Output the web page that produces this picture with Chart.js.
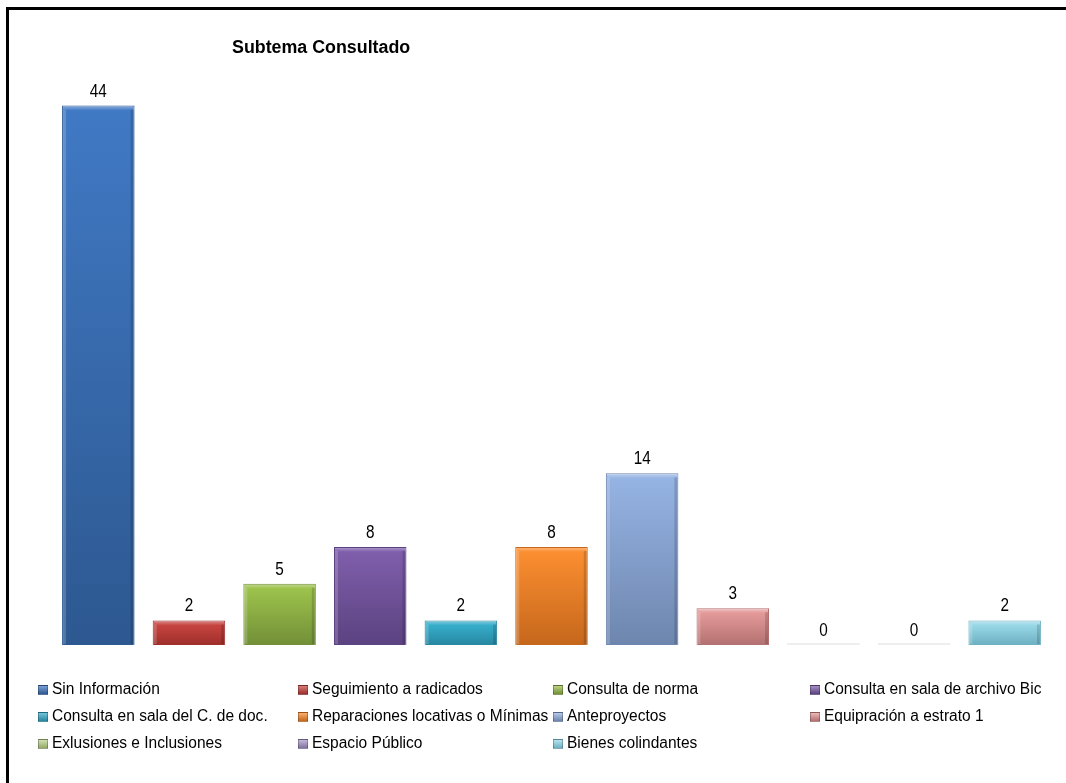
<!DOCTYPE html>
<html>
<head>
<meta charset="utf-8">
<script src="https://cdn.jsdelivr.net/npm/chart.js@4.4.1/dist/chart.umd.min.js"></script>
<style>
  html, body { margin: 0; padding: 0; background: #fff; }
  #wrap { position: relative; width: 1066px; height: 783px; overflow: hidden; }
  #frame { position: absolute; left: 6px; top: 7px; right: -10px; bottom: -10px;
           border-top: 3px solid #000; border-left: 3px solid #000; pointer-events: none; }
  canvas { position: absolute; left: 0; top: 0; }
  #title { position: absolute; left: 232px; top: 37px; font-family: 'Liberation Sans', Arial, sans-serif;
           font-weight: bold; font-size: 18px; color: #000; white-space: nowrap;
           transform: scaleX(0.99); transform-origin: left center; }
  .lg { position: absolute; font-family: 'Liberation Sans', Arial, sans-serif;
        font-size: 16px; color: #000; white-space: nowrap; line-height: 18px; }
  .lg i { position: absolute; left: 0; top: 5px; width: 8px; height: 8px;
          border: 1px solid rgba(0,0,0,0.25); }
  .lg span { position: absolute; left: 14px; top: 0; transform: scaleX(0.97); transform-origin: left center; }
</style>
</head>
<body>
<div id="wrap">
  <canvas id="c" width="1066" height="783"></canvas>
  <div id="title">Subtema Consultado</div>
  <div id="legend"></div>
  <div id="frame"></div>
</div>
<script>
const categories = [
  'Sin Información',
  'Seguimiento a radicados',
  'Consulta de norma',
  'Consulta en sala de archivo Bic',
  'Consulta en sala del C. de doc.',
  'Reparaciones locativas o Mínimas',
  'Anteproyectos',
  'Equipración a estrato 1',
  'Exlusiones e Inclusiones',
  'Espacio Público',
  'Bienes colindantes'
];
const values = [44, 2, 5, 8, 2, 8, 14, 3, 0, 0, 2];
const topColors = ['#4079C4', '#C64440', '#9DC24C', '#7F5EAB', '#35ADCA', '#FB8E30', '#95B3E3', '#E49999', '#BCD28F', '#AA9BC9', '#97D7E6'];
const bottomColors = ['#2D5890', '#9D2E2A', '#728F37', '#5B4280', '#2886A0', '#C5671C', '#6E86AE', '#B37070', '#93AA68', '#8272A0', '#6DB0C2'];

function lighten(hex, f) {
  const n = parseInt(hex.slice(1), 16);
  let r = n >> 16, g = (n >> 8) & 255, b = n & 255;
  r = Math.round(r + (255 - r) * f); g = Math.round(g + (255 - g) * f); b = Math.round(b + (255 - b) * f);
  return `rgb(${r},${g},${b})`;
}

function barFill(ctx) {
  const chart = ctx.chart;
  const i = ctx.dataIndex;
  if (!chart.chartArea) return topColors[i];
  const y = chart.scales.y;
  const top = y.getPixelForValue(values[i]);
  const bottom = y.getPixelForValue(0);
  const h = Math.max(bottom - top, 1);
  const g = chart.ctx.createLinearGradient(0, top, 0, bottom);
  const s = Math.min(5 / h, 0.4);
  g.addColorStop(0, lighten(topColors[i], 0.4));
  g.addColorStop(s, topColors[i]);
  g.addColorStop(1, bottomColors[i]);
  return g;
}

const valueLabels = {
  id: 'valueLabels',
  afterDatasetsDraw(chart) {
    const c = chart.ctx;
    const meta = chart.getDatasetMeta(0);
    c.save();
    c.font = "18px 'Liberation Sans', Arial, sans-serif";
    c.fillStyle = '#000';
    c.textAlign = 'center';
    c.textBaseline = 'alphabetic';
    meta.data.forEach((bar, i) => {
      c.save();
      c.translate(bar.x, bar.y - 9);
      c.scale(0.85, 1);
      c.fillText(String(values[i]), 0, 0);
      c.restore();
    });
    c.restore();
  }
};

const baseLine = {
  id: 'baseLine',
  beforeDatasetsDraw(chart) {
    const c = chart.ctx;
    const meta = chart.getDatasetMeta(0);
    const y0 = chart.scales.y.getPixelForValue(0);
    c.save();
    c.fillStyle = '#EEEEEE';
    meta.data.forEach((bar, i) => {
      if (values[i] === 0) c.fillRect(bar.x - bar.width / 2, y0 - 2, bar.width, 2);
    });
    c.restore();
  }
};

// bevel highlight on the bars' sides
const bevel = {
  id: 'bevel',
  afterDatasetsDraw(chart) {
    const c = chart.ctx;
    const meta = chart.getDatasetMeta(0);
    c.save();
    meta.data.forEach((bar, i) => {
      if (values[i] === 0) return;
      const l = bar.x - bar.width / 2, r = bar.x + bar.width / 2;
      const t = bar.y, b = bar.base;
      c.fillStyle = 'rgba(255,255,255,0.18)';
      c.fillRect(l + 1, t + 4, 3, b - t - 5);
      c.fillStyle = 'rgba(0,0,0,0.15)';
      c.fillRect(r - 4, t + 4, 3, b - t - 5);
    });
    c.restore();
  }
};

new Chart(document.getElementById('c'), {
  type: 'bar',
  data: {
    labels: categories,
    datasets: [{
      data: values,
      backgroundColor: barFill,
      borderColor: bottomColors,
      borderWidth: 1,
      categoryPercentage: 0.8,
      barPercentage: 1.0
    }]
  },
  options: {
    responsive: false,
    animation: false,
    layout: { padding: { left: 53, right: 16, top: 32, bottom: 138 } },
    plugins: { legend: { display: false }, title: { display: false }, tooltip: { enabled: false } },
    scales: {
      x: { display: false },
      y: { display: false, min: 0, max: 50 }
    }
  },
  plugins: [baseLine, bevel, valueLabels]
});

// HTML legend in a 4-column grid
const colX = [38, 298, 553, 810];
const rowY = [680, 707, 734];
const lg = document.getElementById('legend');
categories.forEach((name, i) => {
  const d = document.createElement('div');
  d.className = 'lg';
  d.style.left = colX[i % 4] + 'px';
  d.style.top = rowY[Math.floor(i / 4)] + 'px';
  const sw = document.createElement('i');
  sw.style.background = `linear-gradient(${lighten(topColors[i], 0.3)}, ${bottomColors[i]})`;
  d.appendChild(sw);
  const t = document.createElement('span');
  t.textContent = name;
  d.appendChild(t);
  lg.appendChild(d);
});
</script>
</body>
</html>
